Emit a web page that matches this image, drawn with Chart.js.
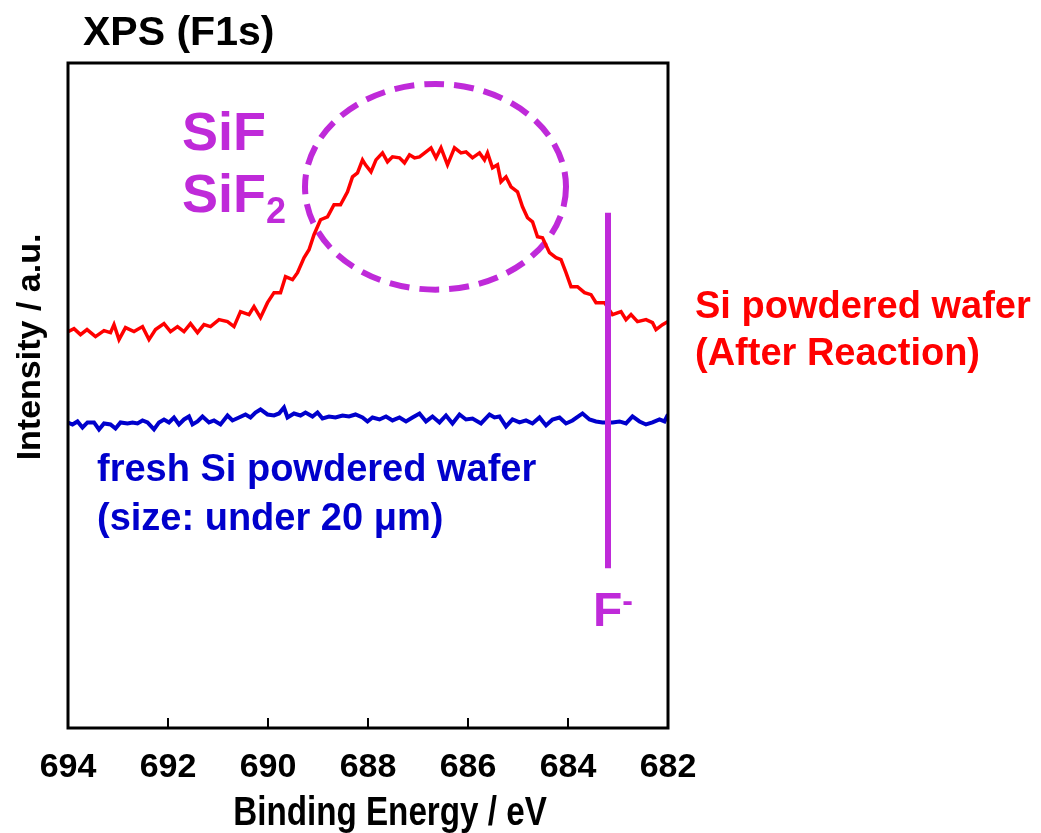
<!DOCTYPE html>
<html>
<head>
<meta charset="utf-8">
<script src="https://cdn.jsdelivr.net/npm/chart.js@4.4.1/dist/chart.umd.min.js"></script>
<style>
html, body { margin: 0; padding: 0; background: #fff; }
</style>
</head>
<body>
<canvas id="xps_chart" width="1041" height="833"></canvas>
<script>
const red = "#ff0000";
const blue = "#0000cc";
const violet = "#bf2ad9";
const font_main = "'Liberation Sans', Arial, sans-serif";

// binding energy axis (eV), drawn high -> low
const energy_min = 682;
const energy_max = 694;
const energy_step = 2;

// Si powdered wafer, after reaction
const energy_red = [694.00, 693.88, 693.75, 693.62, 693.45, 693.28, 693.15, 693.08, 692.98, 692.85,
    692.68, 692.51, 692.38, 692.25, 692.08, 691.95, 691.81, 691.68, 691.55, 691.41,
    691.28, 691.15, 690.98, 690.81, 690.68, 690.55, 690.38, 690.28, 690.15, 690.01,
    689.88, 689.75, 689.65, 689.51, 689.41, 689.28, 689.18, 689.08, 688.95, 688.81,
    688.68, 688.55, 688.41, 688.31, 688.21, 688.11, 688.05, 687.94, 687.84, 687.71,
    687.61, 687.51, 687.37, 687.27, 687.17, 687.07, 686.97, 686.84, 686.74, 686.64,
    686.54, 686.41, 686.27, 686.14, 686.04, 685.91, 685.77, 685.67, 685.61, 685.51,
    685.41, 685.34, 685.24, 685.14, 685.01, 684.91, 684.81, 684.71, 684.61, 684.51,
    684.37, 684.24, 684.14, 684.04, 683.94, 683.81, 683.67, 683.54, 683.44, 683.27,
    683.11, 682.94, 682.84, 682.74, 682.61, 682.44, 682.31, 682.24, 682.11, 682.00];
const intensity_red = [397, 400, 394, 399, 392, 398, 396, 404, 389, 401,
    397, 402, 389, 399, 405, 397, 402, 397, 405, 396,
    404, 402, 409, 407, 402, 417, 414, 422, 411, 426,
    436, 436, 452, 449, 456, 471, 479, 494, 509, 512,
    524, 524, 537, 552, 556, 569, 564, 557, 569, 576,
    567, 572, 571, 566, 574, 571, 572, 577, 581, 571,
    581, 564, 581, 576, 577, 571, 576, 569, 576, 561,
    564, 547, 552, 542, 537, 522, 511, 507, 492, 491,
    476, 471, 469, 456, 442, 442, 436, 434, 426, 426,
    414, 417, 409, 414, 407, 409, 406, 399, 404, 407];

// fresh Si powdered wafer
const energy_blue = [694.00, 693.91, 693.81, 693.71, 693.61, 693.48, 693.38, 693.28, 693.15, 693.05,
    692.95, 692.81, 692.71, 692.61, 692.51, 692.41, 692.28, 692.18, 692.08, 691.98,
    691.88, 691.78, 691.68, 691.58, 691.51, 691.41, 691.31, 691.18, 691.08, 690.95,
    690.81, 690.71, 690.58, 690.45, 690.35, 690.25, 690.15, 690.01, 689.88, 689.78,
    689.68, 689.61, 689.48, 689.35, 689.25, 689.11, 689.01, 688.91, 688.78, 688.65,
    688.51, 688.38, 688.25, 688.11, 688.01, 687.91, 687.77, 687.64, 687.51, 687.37,
    687.24, 687.11, 686.97, 686.84, 686.71, 686.57, 686.44, 686.31, 686.17, 686.04,
    685.91, 685.74, 685.57, 685.47, 685.37, 685.24, 685.11, 684.97, 684.84, 684.71,
    684.57, 684.44, 684.31, 684.17, 684.04, 683.91, 683.71, 683.57, 683.44, 683.31,
    683.11, 682.97, 682.84, 682.71, 682.57, 682.44, 682.31, 682.17, 682.07, 682.00];
const intensity_blue = [306, 304, 307, 301, 306, 306, 299, 305, 304, 300,
    306, 305, 306, 305, 308, 306, 299, 306, 309, 306,
    311, 304, 309, 312, 304, 307, 312, 306, 308, 304,
    313, 308, 311, 314, 311, 316, 319, 314, 313, 315,
    321, 311, 315, 313, 316, 312, 316, 310, 312, 311,
    313, 312, 314, 311, 307, 311, 309, 312, 308, 311,
    307, 311, 315, 307, 312, 306, 313, 305, 314, 309,
    310, 305, 314, 311, 312, 302, 309, 306, 308, 305,
    311, 303, 309, 311, 305, 308, 315, 309, 307, 306,
    306, 307, 305, 312, 307, 304, 306, 309, 307, 314];

// F- marker line and SiF/SiF2 ellipse (energy, intensity)
const f_line_energy = [683.2, 683.2];
const f_line_intensity = [160, 516];
const ellipse_center = [686.65, 542];
const ellipse_radius = [2.61, 103];

const intensity_max = 666;

function points(xs, ys) {
    return xs.map((v, i) => ({ x: v, y: ys[i] }));
}

const annotations = {
    id: 'annotations',
    beforeDatasetsDraw(chart) {
        const { ctx, scales: { x, y } } = chart;
        const cx = x.getPixelForValue(ellipse_center[0]);
        const cy = y.getPixelForValue(ellipse_center[1]);
        const rx = Math.abs(x.getPixelForValue(ellipse_center[0] + ellipse_radius[0]) - cx);
        const ry = Math.abs(y.getPixelForValue(ellipse_center[1] + ellipse_radius[1]) - cy);
        ctx.save();
        ctx.strokeStyle = violet;
        ctx.lineWidth = 6;
        ctx.setLineDash([20, 10]);
        ctx.beginPath();
        ctx.ellipse(cx, cy, rx, ry, 0, 0, Math.PI * 2);
        ctx.stroke();
        ctx.restore();
    },
    afterDraw(chart) {
        const { ctx, chartArea: a, scales: { x } } = chart;
        ctx.save();
        // frame
        ctx.strokeStyle = "#000";
        ctx.lineWidth = 3;
        ctx.strokeRect(a.left, a.top, a.right - a.left, a.bottom - a.top);
        // inward tick marks
        ctx.lineWidth = 2;
        x.ticks.forEach(t => {
            const px = x.getPixelForValue(t.value);
            ctx.beginPath();
            ctx.moveTo(px, a.bottom);
            ctx.lineTo(px, a.bottom - 10);
            ctx.stroke();
        });

        ctx.textAlign = "left";
        ctx.textBaseline = "alphabetic";
        ctx.fillStyle = "#000";
        ctx.font = "bold 41px " + font_main;
        ctx.fillText("XPS (F1s)", 83, 45);

        // axis titles
        ctx.save();
        ctx.textAlign = "center";
        ctx.textBaseline = "middle";
        ctx.translate(a.left + 322, 814);
        ctx.scale(0.83, 1);
        ctx.font = "bold 40px " + font_main;
        ctx.fillText("Binding Energy / eV", 0, 0);
        ctx.restore();

        ctx.save();
        ctx.textAlign = "center";
        ctx.textBaseline = "middle";
        ctx.translate(31, 347);
        ctx.rotate(-Math.PI / 2);
        ctx.font = "bold 34px " + font_main;
        ctx.fillText("Intensity / a.u.", 0, 0);
        ctx.restore();

        ctx.fillStyle = violet;
        ctx.font = "bold 54px " + font_main;
        ctx.fillText("SiF", 182, 150);
        ctx.fillText("SiF", 182, 212);
        const w = ctx.measureText("SiF").width;
        ctx.font = "bold 36px " + font_main;
        ctx.fillText("2", 182 + w, 223);

        ctx.font = "bold 48px " + font_main;
        ctx.fillText("F", 593, 626);
        const wf = ctx.measureText("F").width;
        ctx.font = "bold 32px " + font_main;
        ctx.fillText("-", 593 + wf, 611);

        ctx.fillStyle = red;
        ctx.font = "bold 38px " + font_main;
        ctx.fillText("Si powdered wafer", a.right + 27, 318);
        ctx.fillText("(After Reaction)", a.right + 27, 365);

        ctx.fillStyle = blue;
        ctx.fillText("fresh Si powdered wafer", 97, 481);
        ctx.fillText("(size: under 20 \u03bcm)", 97, 530);
        ctx.restore();
    }
};

const config = {
    type: 'line',
    data: {
        datasets: [{
            label: 'F-',
            data: points(f_line_energy, f_line_intensity),
            borderColor: violet,
            borderWidth: 6,
            pointRadius: 0,
        }, {
            label: 'Si powdered wafer (After Reaction)',
            data: points(energy_red, intensity_red),
            borderColor: red,
            borderWidth: 3.5,
            pointRadius: 0,
        }, {
            label: 'fresh Si powdered wafer',
            data: points(energy_blue, intensity_blue),
            borderColor: blue,
            borderWidth: 4,
            pointRadius: 0,
        }]
    },
    options: {
        responsive: false,
        animation: false,
        layout: { padding: { top: 63, right: 373, bottom: 0, left: 68 } },
        plugins: {
            legend: { display: false },
            tooltip: { enabled: false },
        },
        scales: {
            x: {
                type: 'linear',
                reverse: true,
                min: energy_min,
                max: energy_max,
                grid: { display: false, drawTicks: false },
                border: { display: false },
                ticks: {
                    stepSize: energy_step,
                    padding: 23,
                    color: "#000",
                    font: { family: font_main, size: 34, weight: 'bold', lineHeight: 1 },
                },
                afterFit: (scale) => { scale.height = 105; },
            },
            y: {
                display: false,
                min: 0,
                max: intensity_max,
            },
        },
    },
    plugins: [annotations],
};

const ctx = document.getElementById("xps_chart");
const xps_chart = new Chart(ctx, config);
</script>
</body>
</html>
